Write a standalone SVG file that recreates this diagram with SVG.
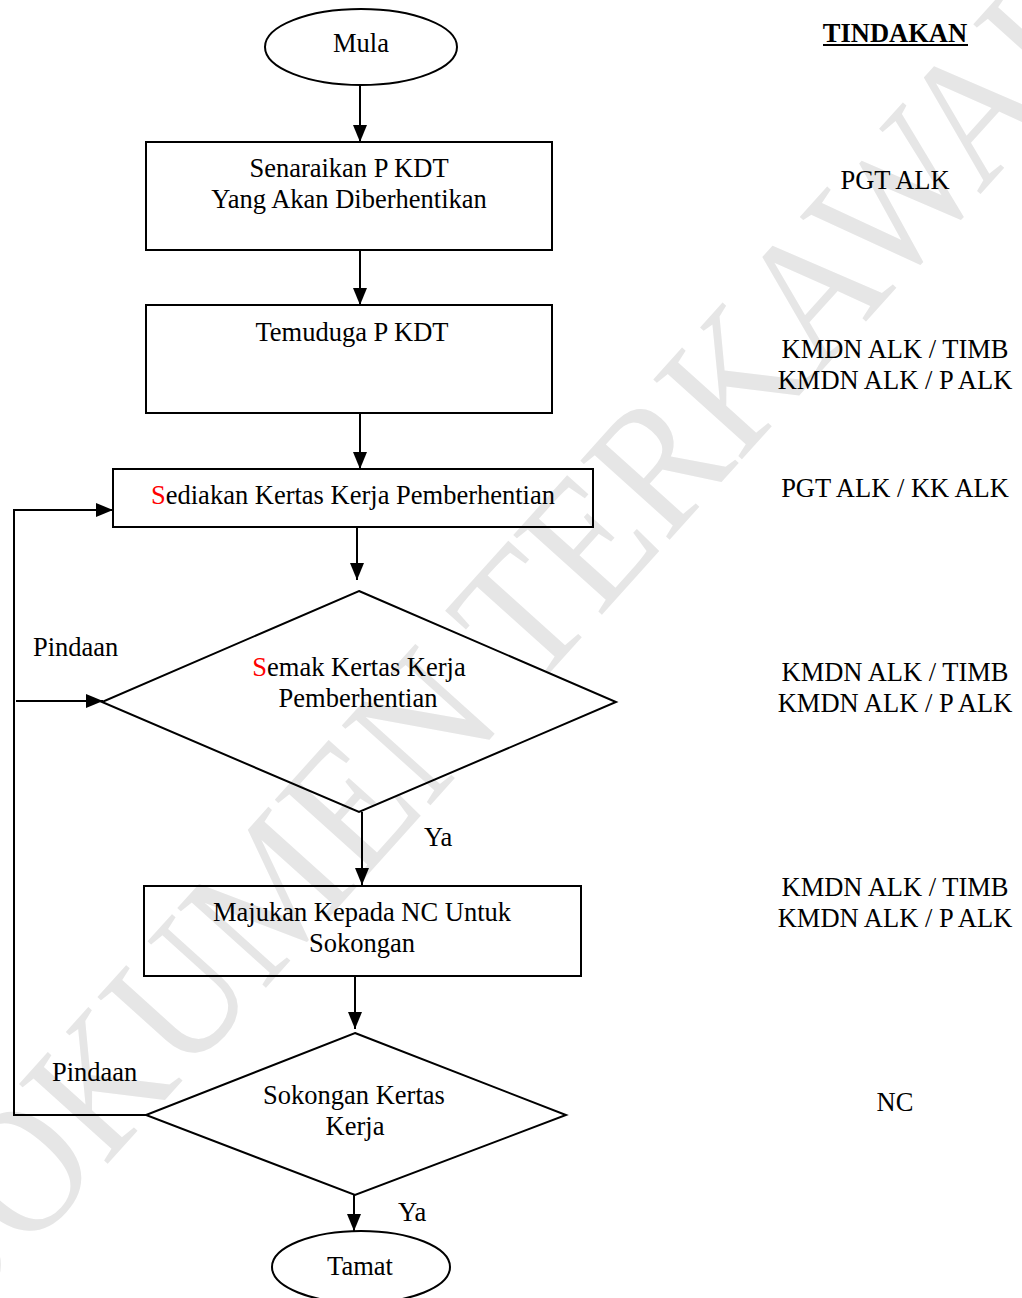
<svg xmlns="http://www.w3.org/2000/svg" width="1022" height="1298" viewBox="0 0 1022 1298">
<style>
text{font-family:"Liberation Serif","Times New Roman",serif;font-size:26.5px;fill:#000}
.c{text-anchor:middle}
.r{fill:#ff0000}
.shape{fill:none;stroke:#000;stroke-width:2}
.conn{fill:none;stroke:#000;stroke-width:2}
.wm{font-size:182px;fill:#e6e6e6;text-anchor:middle}
</style>
<defs>
<marker id="arr" markerUnits="userSpaceOnUse" markerWidth="18" markerHeight="14" refX="17" refY="7" orient="auto">
<path d="M0,0 L17,7 L0,14 Z" fill="#000"/>
</marker>
</defs>
<rect width="1022" height="1298" fill="#fff"/>
<g id="watermark">
<text class="wm" transform="translate(536,688) rotate(-48) scale(0.9,1)">DOKUMEN TERKAWAL</text>
</g>
<g id="connectors">
<path class="conn" d="M360,85 V142" marker-end="url(#arr)"/>
<path class="conn" d="M360,250 V305" marker-end="url(#arr)"/>
<path class="conn" d="M360,413 V469" marker-end="url(#arr)"/>
<path class="conn" d="M357,528 V580" marker-end="url(#arr)"/>
<path class="conn" d="M362,812 V885" marker-end="url(#arr)"/>
<path class="conn" d="M355,977 V1029" marker-end="url(#arr)"/>
<path class="conn" d="M354,1195 V1231" marker-end="url(#arr)"/>
<path class="conn" d="M146,1115 H14 V510 H113" marker-end="url(#arr)"/>
<path class="conn" d="M16,701 H103" marker-end="url(#arr)"/>
<text x="33" y="656">Pindaan</text>
<text x="52" y="1081">Pindaan</text>
<text x="424" y="846">Ya</text>
<text x="398" y="1221">Ya</text>
</g>
<g id="mula">
<ellipse class="shape" cx="361" cy="47" rx="96" ry="38"/>
<text class="c" x="361" y="52">Mula</text>
</g>
<g id="senaraikan">
<rect class="shape" x="146" y="142" width="406" height="108"/>
<text class="c" x="349" y="177">Senaraikan P KDT</text>
<text class="c" x="349" y="208">Yang Akan Diberhentikan</text>
</g>
<g id="temuduga">
<rect class="shape" x="146" y="305" width="406" height="108"/>
<text class="c" x="352" y="341">Temuduga P KDT</text>
</g>
<g id="sediakan">
<rect class="shape" x="113" y="469" width="480" height="58"/>
<text class="c" x="353" y="504"><tspan class="r">S</tspan>ediakan Kertas Kerja Pemberhentian</text>
</g>
<g id="semak">
<polygon class="shape" points="359,591 616,702 359,812 102,702"/>
<text class="c" x="359" y="676"><tspan class="r">S</tspan>emak Kertas Kerja</text>
<text class="c" x="358" y="707">Pemberhentian</text>
</g>
<g id="majukan">
<rect class="shape" x="144" y="886" width="437" height="90"/>
<text class="c" x="362" y="921">Majukan Kepada NC Untuk</text>
<text class="c" x="362" y="952">Sokongan</text>
</g>
<g id="sokongan">
<polygon class="shape" points="355,1033 566,1115 355,1195 146,1115"/>
<text class="c" x="354" y="1104">Sokongan Kertas</text>
<text class="c" x="355" y="1135">Kerja</text>
</g>
<g id="tamat">
<ellipse class="shape" cx="361" cy="1267" rx="89" ry="36"/>
<text class="c" x="360" y="1275">Tamat</text>
</g>
<g id="tindakan">
<text class="c" x="895" y="42" font-weight="bold">TINDAKAN</text>
<rect x="823" y="44" width="145" height="2" fill="#000"/>
<text class="c" x="895" y="189">PGT ALK</text>
<text class="c" x="895" y="358">KMDN ALK / TIMB</text>
<text class="c" x="895" y="389">KMDN ALK / P ALK</text>
<text class="c" x="895" y="497">PGT ALK / KK ALK</text>
<text class="c" x="895" y="681">KMDN ALK / TIMB</text>
<text class="c" x="895" y="712">KMDN ALK / P ALK</text>
<text class="c" x="895" y="896">KMDN ALK / TIMB</text>
<text class="c" x="895" y="927">KMDN ALK / P ALK</text>
<text class="c" x="895" y="1111">NC</text>
</g>
</svg>
